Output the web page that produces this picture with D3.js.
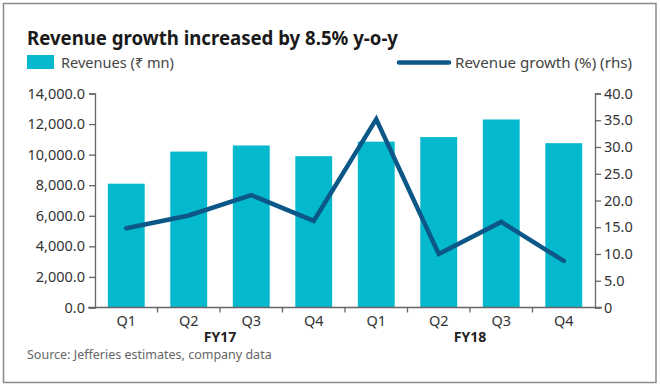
<!DOCTYPE html>
<html><head><meta charset="utf-8">
<script src="https://cdn.jsdelivr.net/npm/d3@7"></script>
<style>
html,body{margin:0;padding:0;background:#fff;}
svg{display:block;font-family:"Noto Sans",sans-serif;}
</style></head><body>
<svg id="c" width="660" height="389"></svg>
<script>
const quarters = ["Q1","Q2","Q3","Q4","Q1","Q2","Q3","Q4"];
const years = ["FY17","FY18"];
const revenues = [8100, 10200, 10600, 9900, 10850, 11150, 12300, 10750];
const growth = [14.8, 17.2, 21.0, 16.2, 35.2, 10.0, 16.0, 8.7];
const leftTicks = [0,2000,4000,6000,8000,10000,12000,14000];
const rightTicks = [0,5,10,15,20,25,30,35,40];

const svg = d3.select("#c");
const m = {left:95,right:595,top:93.5,bottom:307.5};
const idx = d3.range(quarters.length);

svg.append("rect").attr("x",3.5).attr("y",3.5).attr("width",652.5).attr("height",379)
  .attr("fill","#fff").attr("stroke","#8a8a8a").attr("stroke-width",1.5);

const x = d3.scaleBand().domain(idx).range([m.left,m.right]).paddingInner(0.41).paddingOuter(0.205);
const xb = d3.scaleBand().domain(idx).range([m.left,m.right]);
const yL = d3.scaleLinear().domain([0,14000]).range([m.bottom,m.top]);
const yR = d3.scaleLinear().domain([0,40]).range([m.bottom,m.top]);

// title
svg.append("text").attr("x",27).attr("y",45).attr("font-size",20).attr("font-weight",700)
  .attr("fill","#1a1a1a").attr("textLength",371).attr("lengthAdjust","spacingAndGlyphs")
  .text("Revenue growth increased by 8.5% y-o-y");

// legend
svg.append("rect").attr("x",27).attr("y",55).attr("width",27).attr("height",14).attr("fill","#04b9cd");
svg.append("text").attr("x",61).attr("y",68).attr("font-size",14.5).attr("fill","#444")
  .attr("textLength",113).attr("lengthAdjust","spacingAndGlyphs").text("Revenues (₹ mn)");
svg.append("line").attr("x1",399).attr("x2",449).attr("y1",62.5).attr("y2",62.5)
  .attr("stroke","#0b5888").attr("stroke-width",4.5).attr("stroke-linecap","round");
svg.append("text").attr("x",455).attr("y",68).attr("font-size",14.5).attr("fill","#444")
  .attr("textLength",177).attr("lengthAdjust","spacingAndGlyphs").text("Revenue growth (%) (rhs)");

// bars
svg.append("g").selectAll("rect").data(revenues).join("rect")
  .attr("x",(d,i)=>x(i)).attr("width",x.bandwidth())
  .attr("y",d=>yL(d)).attr("height",d=>yL(0)-yL(d)).attr("fill","#04b9cd");

// axes
const axStyle = g=>{
  g.selectAll(".domain").attr("stroke","#666").attr("stroke-width",1.3);
  g.selectAll(".tick line").attr("stroke","#666").attr("stroke-width",1.3);
  g.selectAll("text").attr("fill","#333").attr("font-size",14.5).attr("font-family","Noto Sans, sans-serif");
};
svg.append("g").attr("transform",`translate(${m.left},0)`)
  .call(d3.axisLeft(yL).tickValues(leftTicks).tickFormat(d3.format(",.1f")).tickSize(6).tickSizeOuter(6).tickPadding(4))
  .call(axStyle);
svg.append("g").attr("transform",`translate(${m.right},0)`)
  .call(d3.axisRight(yR).tickValues(rightTicks).tickFormat(d=>d===0?"0":d3.format(".1f")(d)).tickSize(6).tickSizeOuter(6).tickPadding(3))
  .call(axStyle);

// x axis line and ticks
svg.append("line").attr("x1",m.left-7).attr("x2",m.right+7).attr("y1",m.bottom).attr("y2",m.bottom)
  .attr("stroke","#666").attr("stroke-width",1.3);
svg.append("g").selectAll("line").data(idx.slice(1)).join("line")
  .attr("x1",i=>xb(i)).attr("x2",i=>xb(i)).attr("y1",m.bottom).attr("y2",m.bottom+5)
  .attr("stroke","#666").attr("stroke-width",1.3);
svg.append("g").selectAll("text").data(quarters).join("text")
  .attr("x",(d,i)=>xb(i)+xb.bandwidth()/2).attr("y",325.5).attr("text-anchor","middle")
  .attr("font-size",14.5).attr("fill","#333").text(d=>d);
svg.append("g").selectAll("text").data(years).join("text")
  .attr("x",(d,i)=>xb(i*4+2)).attr("y",342).attr("text-anchor","middle")
  .attr("font-size",14).attr("font-weight",700).attr("fill","#222").text(d=>d);

// line
const line = d3.line().x((d,i)=>xb(i)+xb.bandwidth()/2).y(d=>yR(d));
svg.append("path").datum(growth).attr("d",line).attr("fill","none")
  .attr("stroke","#0b5888").attr("stroke-width",4.5).attr("stroke-linejoin","miter").attr("stroke-linecap","round");

// source
svg.append("text").attr("x",27).attr("y",359).attr("font-size",12.5).attr("fill","#666")
  .text("Source: Jefferies estimates, company data");
</script></body></html>
